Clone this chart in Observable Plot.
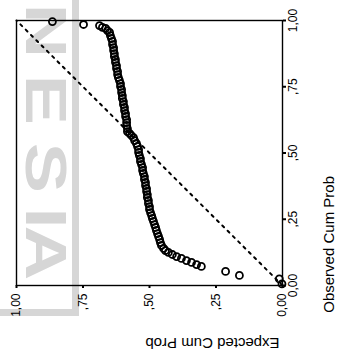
<!DOCTYPE html>
<html>
<head>
<meta charset="utf-8">
<script src="https://cdn.jsdelivr.net/npm/d3@7"></script>
<script src="https://cdn.jsdelivr.net/npm/@observablehq/plot@0.6"></script>
<style>
  html, body { margin: 0; padding: 0; background: #fff; }
  #chart { width: 340px; height: 352px; overflow: hidden; }
</style>
</head>
<body>
<div id="chart"></div>
<script>
// P-P plot (scanned page rotated 90° counter-clockwise)
// x: Expected Cum Prob (bottom axis, 1 at left -> 0 at right)
// y: Observed Cum Prob (right axis, 0 at bottom -> 1 at top)
const expected = [
  0.002, 0.012, 0.162, 0.214,
  0.305, 0.323, 0.342, 0.361, 0.380, 0.398, 0.414, 0.429, 0.440, 0.447,
  0.455, 0.459, 0.462, 0.466, 0.470, 0.474, 0.477, 0.481, 0.485, 0.489,
  0.492, 0.496, 0.500, 0.500, 0.504, 0.504, 0.508, 0.508, 0.511, 0.511,
  0.515, 0.515, 0.519, 0.519, 0.523, 0.526, 0.526, 0.530, 0.534, 0.534,
  0.538, 0.541, 0.541, 0.545, 0.549, 0.556, 0.560, 0.568, 0.575, 0.583,
  0.583, 0.586, 0.586, 0.586, 0.590, 0.590, 0.594, 0.594, 0.598, 0.598,
  0.602, 0.602, 0.605, 0.605, 0.609, 0.609, 0.613, 0.617, 0.620, 0.620,
  0.624, 0.624, 0.628, 0.628, 0.632, 0.632, 0.635, 0.635, 0.639, 0.639,
  0.643, 0.647, 0.650, 0.658, 0.665, 0.677, 0.688,
  0.748, 0.865
];
const observed = [
  0.006, 0.025, 0.038, 0.053,
  0.072, 0.079, 0.087, 0.094, 0.102, 0.109, 0.117, 0.125, 0.132, 0.140,
  0.151, 0.162, 0.174, 0.185, 0.196, 0.208, 0.219, 0.230, 0.242, 0.253,
  0.264, 0.275, 0.287, 0.298, 0.309, 0.321, 0.332, 0.343, 0.355, 0.366,
  0.377, 0.389, 0.400, 0.411, 0.423, 0.434, 0.445, 0.457, 0.468, 0.479,
  0.491, 0.502, 0.513, 0.525, 0.536, 0.547, 0.558, 0.566, 0.574, 0.581,
  0.592, 0.604, 0.615, 0.626, 0.638, 0.649, 0.660, 0.672, 0.683, 0.694,
  0.706, 0.717, 0.728, 0.740, 0.751, 0.762, 0.774, 0.785, 0.796, 0.808,
  0.819, 0.830, 0.842, 0.853, 0.864, 0.875, 0.887, 0.898, 0.909, 0.921,
  0.932, 0.943, 0.955, 0.962, 0.970, 0.974, 0.981,
  0.985, 0.996
];
const tickValues = [0, 0.25, 0.5, 0.75, 1];
const tickLabels = ["0,00", ",25", ",50", ",75", "1,00"];
const refLine = [0, 1];
const xTitle = "Expected Cum Prob";
const yTitle = "Observed Cum Prob";
const watermarkLetters = ["N", "E", "S", "I", "A"];

const points = expected.map((e, i) => ({e, o: observed[i]}));
const fmt = v => tickLabels[tickValues.indexOf(v)];

const chart = Plot.plot({
  width: 340,
  height: 352,
  marginLeft: 16,
  marginRight: 58,
  marginTop: 20,
  marginBottom: 67,
  style: {fontFamily: "'Liberation Sans', Arial, sans-serif", background: "transparent", color: "#000"},
  x: {domain: [0, 1], reverse: true},
  y: {domain: [0, 1]},
  marks: [
    Plot.line(refLine, {x: d => d, y: d => d, stroke: "#000", strokeWidth: 2, strokeDasharray: "2.5,5"}),
    Plot.dot(points, {x: "e", y: "o", r: 3.5, stroke: "#000", strokeWidth: 1.8, fill: "none"}),
    Plot.frame({stroke: "#000", strokeWidth: 1.4}),
    Plot.axisX({ticks: tickValues, tickFormat: fmt, tickSize: 3, tickPadding: 5, tickRotate: -90,
      textAnchor: "end", lineAnchor: "middle", fontSize: 12, strokeWidth: 2, label: null}),
    Plot.axisY({anchor: "right", ticks: tickValues, tickFormat: fmt, tickSize: 3, tickPadding: 3, tickRotate: -90,
      textAnchor: "middle", lineAnchor: "top", fontSize: 12, strokeWidth: 2, label: null}),
    Plot.text([xTitle], {text: d => d, frameAnchor: "bottom", rotate: 180, dx: 63, dy: 52, fontSize: 15}),
    Plot.text([yTitle], {text: d => d, frameAnchor: "right", rotate: -90, dx: 47, dy: 23, fontSize: 15})
  ]
});

// faint scanned watermark behind the chart
const svg = d3.select(chart);
const wm = svg.insert("g", ":first-child").attr("fill", "#d6d6d6");
wm.append("rect").attr("x", 72).attr("y", 0).attr("width", 7).attr("height", 316);
wm.append("rect").attr("x", 0).attr("y", 309).attr("width", 79).attr("height", 7);
const letterY = [31, 100, 168, 218, 253];
wm.selectAll("text").data(watermarkLetters).join("text")
  .attr("transform", (d, i) => `translate(46,${letterY[i]}) rotate(90) scale(1.3,1)`)
  .attr("text-anchor", "middle")
  .attr("dominant-baseline", "central")
  .attr("font-family", "'Liberation Sans', Arial, sans-serif")
  .attr("font-weight", "bold")
  .attr("font-size", 58)
  .text(d => d);

document.getElementById("chart").appendChild(chart);
</script>
</body>
</html>
